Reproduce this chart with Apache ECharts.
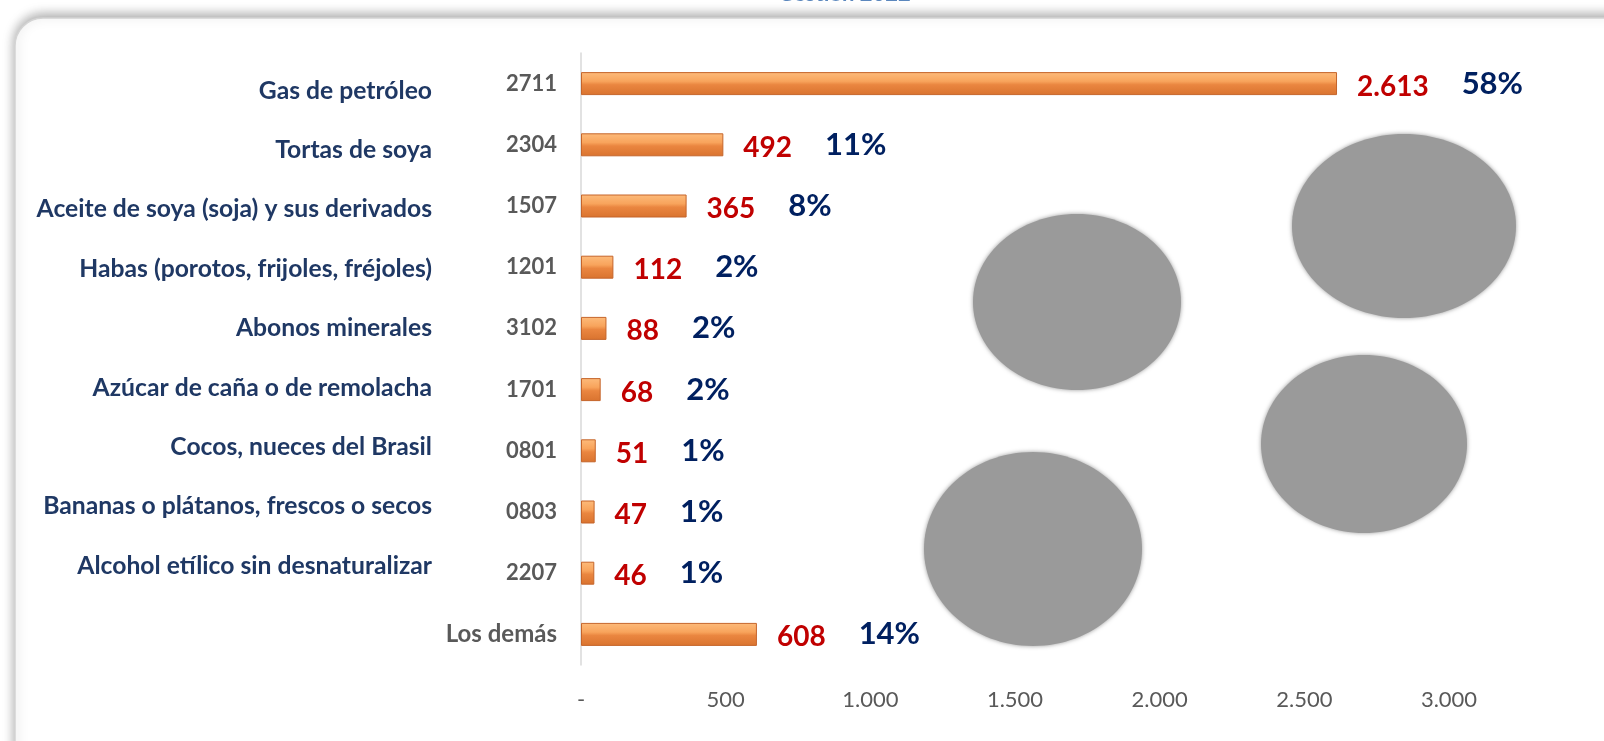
<!DOCTYPE html>
<html>
<head>
<meta charset="utf-8">
<script src="https://cdn.jsdelivr.net/npm/echarts@6/dist/echarts.min.js"></script>
<style>
  html, body { margin: 0; padding: 0; background: #fff; }
  #chart { width: 1604px; height: 741px; }
</style>
</head>
<body>
<div id="chart"></div>
<script>
// datos (Gestión 2022)
const names = [
  "Gas de petróleo",
  "Tortas de soya",
  "Aceite de soya (soja) y sus derivados",
  "Habas (porotos, frijoles, fréjoles)",
  "Abonos minerales",
  "Azúcar de caña o de remolacha",
  "Cocos, nueces del Brasil",
  "Bananas o plátanos, frescos o secos",
  "Alcohol etílico sin desnaturalizar",
  "Los demás"
]
const codes = ["2711", "2304", "1507", "1201", "3102", "1701", "0801", "0803", "2207", ""]
const values = [2613, 492, 365, 112, 88, 68, 51, 47, 46, 608]
const shares = [58, 11, 8, 2, 2, 2, 1, 1, 1, 14]
const xTicks = [0, 500, 1000, 1500, 2000, 2500, 3000]

const FONT = "Lato"
const fmt = v => v === 0 ? "-" : String(v).replace(/\B(?=(\d{3})+(?!\d))/g, ".")

const chart = echarts.init(document.getElementById("chart"))

const barColor = new echarts.graphic.LinearGradient(0, 0, 0, 1, [
  { offset: 0, color: "#fdbb7b" },
  { offset: 0.4, color: "#f8a45c" },
  { offset: 0.55, color: "#ea8640" },
  { offset: 1, color: "#d9732f" },
])

// manchas grises decorativas
const blobs = [
  { cx: 1077, cy: 302, rx: 104, ry: 88 },
  { cx: 1404, cy: 226, rx: 112, ry: 92 },
  { cx: 1364, cy: 444, rx: 103, ry: 89 },
  { cx: 1033, cy: 549, rx: 109, ry: 97 },
]

chart.setOption({
  animation: false,
  textStyle: { fontFamily: FONT },
  graphic: [
    {
      type: "rect", z: -10,
      shape: { x: 15, y: 18, width: 1700, height: 900, r: 28 },
      style: { fill: "#fff", stroke: "#d4d4d4", lineWidth: 1.5,
        shadowBlur: 12, shadowColor: "rgba(0,0,0,0.35)", shadowOffsetY: -3 },
    },
    {
      type: "text", left: 778, top: -17, z: 10,
      style: { text: "Gestión 2022", fill: "#5b87bd", font: "bold 22px " + FONT },
    },
    ...blobs.map(b => ({
      type: "ellipse", z: 5,
      shape: b,
      style: { fill: "#9a9a9a", shadowBlur: 4, shadowColor: "#9a9a9a" },
    })),
  ],
  grid: [
    { left: 581, top: 53, width: 868, bottom: 76 },
    // los nombres van en cajas con un paso algo menor
    { left: 581, top: 61, width: 868, height: 594 },
  ],
  xAxis: [
    {
      type: "value", min: xTicks[0], max: xTicks[xTicks.length - 1], interval: 500,
      axisLine: { show: false }, axisTick: { show: false }, splitLine: { show: false },
      axisLabel: { margin: 24, color: "#595959", fontSize: 22, formatter: v => fmt(v) },
    },
    { type: "value", gridIndex: 1, show: false },
  ],
  yAxis: [
    {
      type: "category", inverse: true, data: codes,
      axisLine: { show: true, lineStyle: { color: "#d9d9d9", width: 1.5 } },
      axisTick: { show: false },
      axisLabel: {
        margin: 24,
        formatter: (v, i) => v ? "{c|" + v + "}" : "{l|" + names[i] + "}",
        rich: {
          c: { color: "#595959", fontWeight: "bold", fontSize: 22, fontFamily: FONT },
          l: { color: "#595959", fontWeight: "bold", fontSize: 24, fontFamily: FONT },
        },
      },
    },
    {
      type: "category", gridIndex: 1, inverse: true, data: names,
      axisLine: { show: false }, axisTick: { show: false },
      axisLabel: {
        margin: 149, color: "#1f3864", fontWeight: "bold", fontSize: 24.7,
        formatter: (v, i) => codes[i] ? v : "",
      },
    },
  ],
  series: [
    {
      type: "bar", yAxisIndex: 0, barWidth: 23,
      data: values,
      itemStyle: { color: barColor, borderColor: "#c5652b", borderWidth: 1 },
      label: {
        show: true, position: "right", distance: 20,
        formatter: p => "{v|" + fmt(p.value) + "}{p|" + shares[p.dataIndex] + "%}",
        rich: {
          v: { color: "#c00000", fontWeight: "bold", fontSize: 28, fontFamily: FONT, padding: [6, 0, 0, 0] },
          p: { color: "#002060", fontWeight: "bold", fontSize: 31, fontFamily: FONT, padding: [0, 0, 0, 33] },
        },
      },
    },
  ],
})
</script>
</body>
</html>
